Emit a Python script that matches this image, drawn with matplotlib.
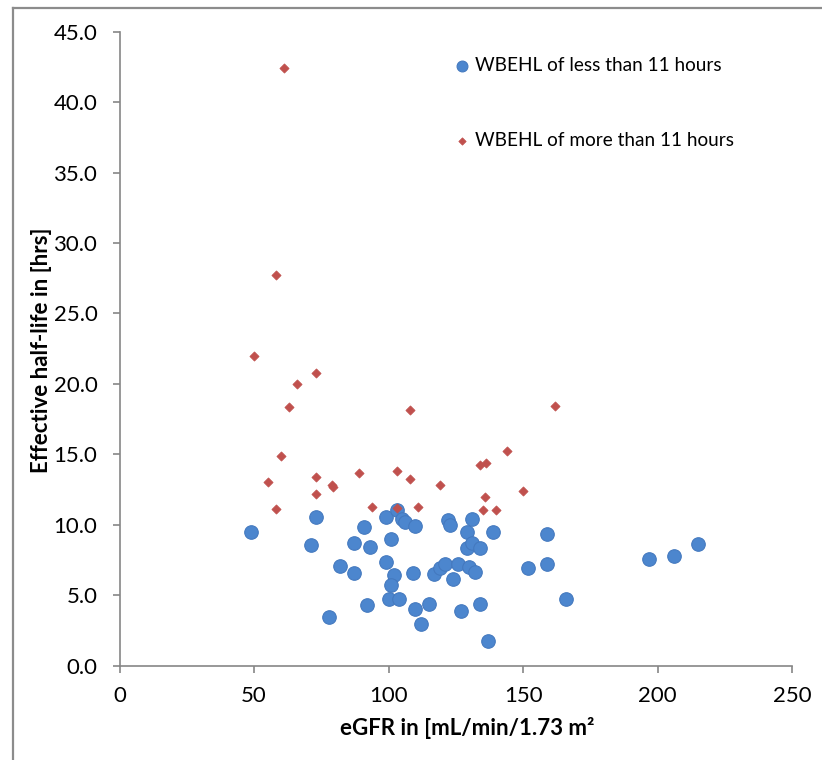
import matplotlib
matplotlib.use("Agg")
import matplotlib.pyplot as plt
from matplotlib.lines import Line2D

plt.rcParams['font.family'] = ['Lato', 'DejaVu Sans']

# eGFR values and effective half-life, WBEHL < 11 h
egfr_less = [49, 73, 71, 82, 78, 87, 87, 91, 93, 92, 99, 99, 101, 103, 105, 106,
             110, 102, 101, 100, 104, 109, 110, 112, 115, 117, 119, 121, 122, 123,
             124, 126, 127, 129, 129, 130, 131, 131, 132, 134, 134, 137, 139, 152,
             159, 159, 166, 197, 206, 215]
hl_less = [9.47, 10.54, 8.55, 7.10, 3.43, 8.67, 6.54, 9.80, 8.45, 4.27, 10.54, 7.38,
           9.00, 11.03, 10.40, 10.21, 9.92, 6.41, 5.75, 4.69, 4.74, 6.54, 4.03, 2.97,
           4.40, 6.48, 6.94, 7.22, 10.32, 9.99, 6.13, 7.22, 3.86, 9.46, 8.32, 7.00,
           10.40, 8.70, 6.64, 8.32, 4.35, 1.76, 9.50, 6.95, 9.33, 7.19, 4.69, 7.59,
           7.80, 8.60]

# WBEHL > 11 h
egfr_more = [61, 58, 50, 73, 66, 63, 108, 162, 60, 144, 134, 136.3, 55, 73, 89, 103,
             108, 119, 79, 79.5, 73, 136, 150, 58, 94, 103, 111, 135, 140]
hl_more = [42.43, 27.75, 21.99, 20.79, 19.98, 18.34, 18.12, 18.40, 14.87, 15.25,
           14.26, 14.39, 13.01, 13.38, 13.69, 13.80, 13.27, 12.82, 12.80, 12.68,
           12.15, 11.98, 12.37, 11.10, 11.29, 11.17, 11.29, 11.07, 11.05]

x_ticks = [0, 50, 100, 150, 200, 250]
y_ticks = [0, 5, 10, 15, 20, 25, 30, 35, 40, 45]

label_less = "WBEHL of less than 11 hours"
label_more = "WBEHL of more than 11 hours"
x_label = "eGFR in [mL/min/1.73 m\u00b2"
y_label = "Effective half-life in [hrs]"

blue = "#4C86CE"
blue_edge = "#4479BF"
red = "#C0504D"
axis_gray = "#868686"

fig = plt.figure(figsize=(8.22, 7.6), dpi=100)
ax = fig.add_axes([119.6 / 822, 1 - 665.5 / 760, (792 - 119.6) / 822, (665.5 - 31.8) / 760])

ax.scatter(egfr_less, hl_less, s=95, c=blue, edgecolors=blue_edge, linewidths=0.8,
           label=label_less, zorder=3)
ax.scatter(egfr_more, hl_more, s=22, marker='D', c=red, edgecolors=red, linewidths=0.5,
           label=label_more, zorder=4)

ax.set_xlim(0, 250)
ax.set_ylim(0, 45)
ax.set_xticks(x_ticks)
ax.set_xticklabels([str(v) for v in x_ticks])
ax.set_yticks(y_ticks)
ax.set_yticklabels([f"{v:.1f}" for v in y_ticks])

for side in ['top', 'right']:
    ax.spines[side].set_visible(False)
for side in ['left', 'bottom']:
    ax.spines[side].set_color(axis_gray)
    ax.spines[side].set_linewidth(1.2)

ax.tick_params(axis='both', direction='out', length=5, width=1.2, color=axis_gray,
               labelsize=16, labelcolor='black')
ax.tick_params(axis='y', pad=11)
ax.tick_params(axis='x', pad=10)

ax.set_xlabel(x_label, fontsize=16, fontweight='bold')
ax.xaxis.set_label_coords(0.5167, -0.082)
ax.set_ylabel(y_label, fontsize=16, fontweight='bold')
ax.yaxis.set_label_coords(-0.1005, 0.497)

leg = ax.legend(loc='upper left', bbox_to_anchor=(0.4885, 0.973), frameon=False,
                fontsize=13.7, labelspacing=3.05, handlelength=0.7, handletextpad=0.3,
                borderaxespad=0, markerscale=0.8)

# outer frame lines (left and top)
fig.add_artist(Line2D([13 / 822, 13 / 822], [0, 1 - 8 / 760], transform=fig.transFigure,
                      color="#8C8C8C", linewidth=1.6))
fig.add_artist(Line2D([13 / 822, 1], [1 - 8 / 760, 1 - 8 / 760], transform=fig.transFigure,
                      color="#8C8C8C", linewidth=1.6))

fig.savefig("out.png", dpi=100, facecolor='white')
